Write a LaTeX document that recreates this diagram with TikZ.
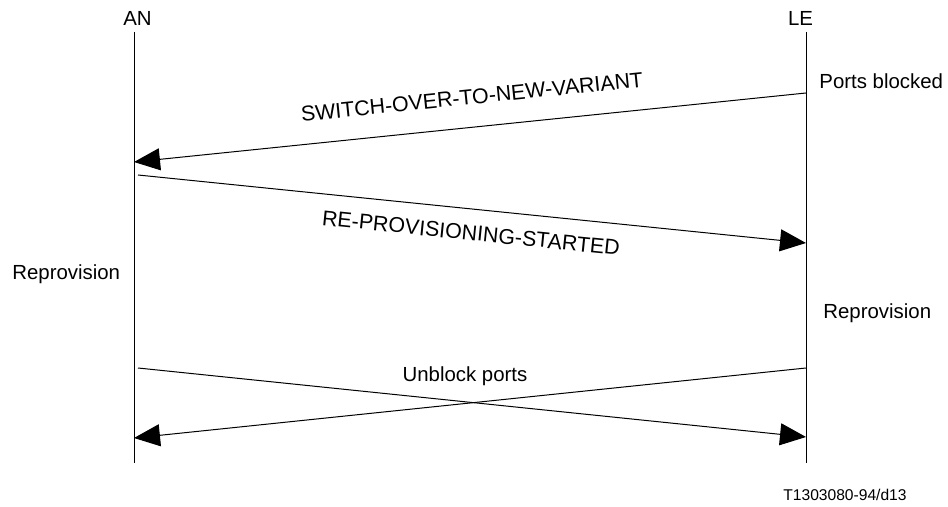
\documentclass[tikz,border=0pt]{standalone}
\usepackage{fontspec}
\setmainfont{Liberation Sans}
\usetikzlibrary{arrows.meta}
\tikzset{
  life/.style={line width=0.5pt},
  msg/.style={line width=0.5pt, -{Triangle[length=13pt,width=11pt]}},
  txt/.style={font=\fontsize{10.2}{12}\selectfont, inner sep=0pt},
  msgtxt/.style={font=\fontsize{10.7}{12}\selectfont, inner sep=0pt},
  tag/.style={font=\fontsize{7.8}{9}\selectfont, inner sep=0pt}
}
\begin{document}
\begin{tikzpicture}[x=0.5pt, y=-0.5pt]
      \useasboundingbox (0,0) rectangle (948,507);
      % lifelines
      \node[txt, anchor=base] (an) at (137.5,26) {AN};
      \node[txt, anchor=base] (le) at (800.5,26) {LE};
      \coordinate (antop) at (134,32);
      \coordinate (anbot) at (134,463);
      \coordinate (letop) at (806,32);
      \coordinate (lebot) at (806,463);
      \draw[life] (antop) -- (anbot);
      \draw[life] (letop) -- (lebot);
      % message ends
      \coordinate (le1) at (806,93);
      \coordinate (an1) at (134,162);
      \coordinate (an2) at (138,175);
      \coordinate (le2) at (806,243);
      \coordinate (an3) at (138,368);
      \coordinate (le3) at (806,437);
      \coordinate (le4) at (806,368);
      \coordinate (an4) at (134,438);
      % messages
      \draw[msg] (le1) -- (an1);
      \draw[msg] (an2) -- (le2);
      \draw[msg] (an3) -- (le3);
      \draw[msg] (le4) -- (an4);
      \node[msgtxt, rotate=5.86] (switch) at (472,97) {SWITCH-OVER-TO-NEW-VARIANT};
      \node[msgtxt, rotate=-5.8] (restart) at (471,233) {RE-PROVISIONING-STARTED};
      \node[txt, anchor=base] (unblock) at (465,382) {Unblock ports};
      % states
      \node[txt, anchor=base west] (blocked) at (819,89) {Ports blocked};
      \node[txt, anchor=base west] (reprovan) at (12,280) {Reprovision};
      \node[txt, anchor=base west] (reprovle) at (823,319) {Reprovision};
      \node[tag, anchor=base west] (figtag) at (783,501) {T1303080-94/d13};
    \end{tikzpicture}
\end{document}
